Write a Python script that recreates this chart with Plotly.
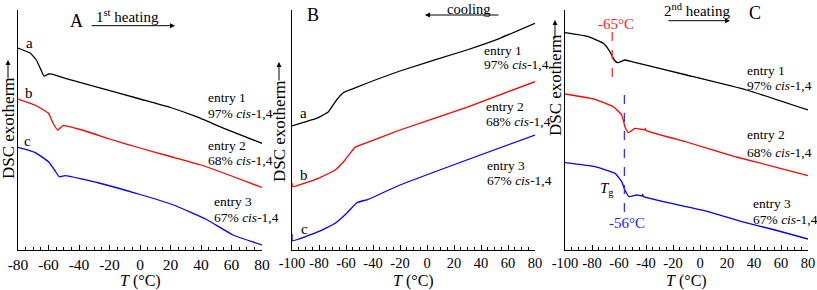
import plotly.graph_objects as go

W, H = 817, 290

# ---------------- data (temperature in °C, DSC signal in arbitrary units) ----------------
# Panel A: 1st heating
A_T_a = [-80, -72, -68, -65.5, -63, -60, -57, -49, -30, 0, 20, 37, 55, 80]
A_S_a = [202, 197, 190, 182, 174, 176, 175.7, 171.7, 163.7, 151, 142.5, 133.3, 121.7, 106.7]
A_T_b = [-80, -69, -60, -57, -54, -50.5, -38, -20, 0, 20, 40, 60, 80]
A_S_b = [151, 145, 136.7, 126.7, 120, 124.3, 120, 111, 102, 93.5, 85, 74, 62.5]
A_T_c = [-80, -69, -60, -56, -53, -49, -27, 0, 22, 43, 61, 80]
A_S_c = [102.7, 97.7, 88.3, 80, 73.3, 74.3, 67, 55.5, 45, 31, 15, 5]

# Panel B: cooling
B_T_a = [-100, -80.5, -73, -67, -62, -56, -20, 29.4, 54, 80]
B_S_a = [124, 132.3, 138.3, 150, 157.3, 160.7, 179, 200, 211.7, 226.7]
B_T_b = [-100, -99.6, -80.5, -68, -60.7, -53.3, -46, -20, 29.4, 80]
B_S_b = [67, 63.3, 71.7, 80, 90, 102.7, 106.7, 120, 142.7, 168.3]
B_T_c = [-100, -99.6, -80.5, -68, -59.5, -52, -43.5, -20, 29.4, 80]
B_S_c = [16, 9.3, 18.3, 26.7, 36.7, 47.3, 50.7, 65, 90, 115]

# Panel C: 2nd heating
C_T_a = [-100, -82.7, -71.6, -66.7, -63.5, -61, -55.6, -50.6, -10, 34.6, 80]
C_S_a = [217.3, 213.3, 206.7, 198.3, 190, 187.3, 190, 188.3, 175, 160, 140]
C_T_b = [-100, -77.8, -64.2, -58, -55.6, -53.1, -48.1, -41, -40.5, -40, -10, 27, 80]
C_S_b = [156, 150.7, 143.3, 135, 123.3, 117.3, 121.7, 120, 121.5, 119.5, 108, 93, 74.3]
C_T_c = [-100, -77.8, -63, -58, -55.6, -52.6, -46.9, -43, -42.5, -42, -10, 6, 31, 55.6, 80]
C_S_c = [87.3, 83.3, 76.7, 68.3, 60, 53.3, 55, 54, 55.5, 53.5, 43.3, 38.3, 28.3, 20, 11]

TG_C = [-65, -56]
TG_LABELS = ["-65°C", "-56°C"]

TICKS_A = [-80, -60, -40, -20, 0, 20, 40, 60, 80]
TICKS_BC = [-100, -80, -60, -40, -20, 0, 20, 40, 60, 80]

ENTRY = ["entry 1", "entry 2", "entry 3"]
CIS = ["97% <i>cis</i>-1,4", "68% <i>cis</i>-1,4", "67% <i>cis</i>-1,4"]

COLORS = ["#000000", "#ff0000", "#0000ff"]
FONT = "Liberation Serif"

fig = go.Figure()


def add(T, S, color, xa, ya):
    fig.add_trace(go.Scatter(x=T, y=S, mode="lines",
                             line=dict(color=color, width=1.3, shape="spline", smoothing=0.35),
                             xaxis=xa, yaxis=ya, showlegend=False, hoverinfo="skip"))


for (T, S), c in zip([(A_T_a, A_S_a), (A_T_b, A_S_b), (A_T_c, A_S_c)], COLORS):
    add(T, S, c, "x", "y")
for (T, S), c in zip([(B_T_a, B_S_a), (B_T_b, B_S_b), (B_T_c, B_S_c)], COLORS):
    add(T, S, c, "x2", "y2")
for (T, S), c in zip([(C_T_a, C_S_a), (C_T_b, C_S_b), (C_T_c, C_S_c)], COLORS):
    add(T, S, c, "x3", "y3")

ydom = [1 - 250 / H, 1 - 10 / H]


def xax(dom, rng, ticks, anchor, fs):
    return dict(domain=dom, range=rng, anchor=anchor, tickmode="array", tickvals=ticks,
                ticktext=[str(t) for t in ticks], tickangle=0,
                ticks="inside", ticklen=5, tickwidth=1, tickcolor="black",
                showline=True, linecolor="black", linewidth=1,
                minor=dict(dtick=5, tick0=0, ticks="inside", ticklen=3, tickcolor="black"),
                tickfont=dict(family=FONT, size=fs, color="black"),
                ticklabeloverflow="allow",
                showgrid=False, zeroline=False, automargin=False)


def yax(anchor):
    return dict(domain=ydom, range=[0, 240], anchor=anchor, showline=True, linecolor="black",
                linewidth=1, showticklabels=False, ticks="", showgrid=False, zeroline=False,
                automargin=False)


fig.update_layout(
    width=W, height=H, margin=dict(l=0, r=0, t=0, b=0, pad=0, autoexpand=False),
    paper_bgcolor="white", plot_bgcolor="white",
    xaxis=xax([18 / W, 262 / W], [-80, 80], TICKS_A, "y", 15.5),
    xaxis2=xax([292 / W, 535 / W], [-100, 80], TICKS_BC, "y2", 14.5),
    xaxis3=xax([565 / W, 808 / W], [-100, 80], TICKS_BC, "y3", 14.5),
    yaxis=yax("x"), yaxis2=yax("x2"), yaxis3=yax("x3"),
    font=dict(family=FONT, color="black"),
)

# dashed Tg lines in panel C
fig.add_shape(type="line", xref="x3", yref="y3", x0=TG_C[0], x1=TG_C[0], y0=218, y1=165,
              line=dict(color="#ff3030", width=1.3, dash="dash"))
fig.add_shape(type="line", xref="x3", yref="y3", x0=TG_C[1], x1=TG_C[1], y0=155, y1=33,
              line=dict(color="#3030ff", width=1.3, dash="dash"))

ann = []


def txt(px, py, text, size=13.5, color="black", xanchor="left", angle=0):
    ann.append(dict(x=px / W, y=1 - py / H, xref="paper", yref="paper", text=text,
                    showarrow=False, xanchor=xanchor, yanchor="middle", textangle=angle,
                    font=dict(family=FONT, size=size, color=color)))


def arrow(hx, hy, dx, dy):
    ann.append(dict(x=hx / W, y=1 - hy / H, xref="paper", yref="paper", text="",
                    showarrow=True, ax=dx, ay=dy, arrowhead=2, arrowsize=1,
                    arrowwidth=1, arrowcolor="black"))


# entry labels
A_pos = [(206, 97, 113), (206, 145, 160), (212, 202, 217)]
B_pos = [(482, 50, 64), (484, 107, 122), (485, 165, 180)]
C_pos = [(745, 70, 85), (745, 135, 152), (751, 203, 219)]
for pos in (A_pos, B_pos, C_pos):
    for (px, y1, y2), e, c in zip(pos, ENTRY, CIS):
        txt(px, y1, e)
        txt(px, y2, c)

# curve letters
for px, py, t in [(29, 43, "a"), (29, 93, "b"), (28, 141, "c"),
                  (303, 113, "a"), (304, 175, "b"), (304, 229, "c")]:
    txt(px, py, t, size=15, xanchor="center")

# panel letters
txt(76, 21, "A", size=18, xanchor="center")
txt(313, 15, "B", size=18, xanchor="center")
txt(755, 13, "C", size=18, xanchor="center")

# process arrows
txt(127, 16, "1<sup>st</sup> heating", size=15, xanchor="center")
arrow(175, 25.7, -85, 0)
txt(469, 8.5, "cooling", size=14.5, xanchor="center")
arrow(425, 15, 75, 0)
txt(697, 10, "2<sup>nd</sup> heating", size=15, xanchor="center")
arrow(730, 20.7, -63, 0)

# y titles
for px, cy, ah in [(8, 128, 60), (279, 131, 62), (555, 85, 20)]:
    txt(px, cy, "DSC exotherm", size=17, xanchor="center", angle=-90)
    arrow(px, ah, 0, 20)

# x titles
for cx in (140, 413, 686):
    txt(cx, 281, "<i>T</i> (°C)", size=16, xanchor="center")

# Tg labels
txt(616, 24, TG_LABELS[0], size=15, color="#ff2020", xanchor="center")
txt(627, 223, TG_LABELS[1], size=15, color="#2020ff", xanchor="center")
txt(607, 189, "<i>T</i><sub>g</sub>", size=15, xanchor="center")

fig.update_layout(annotations=ann)
fig.write_html("out.html", config={"displayModeBar": False},
               post_script="document.body.style.margin='0px';")
